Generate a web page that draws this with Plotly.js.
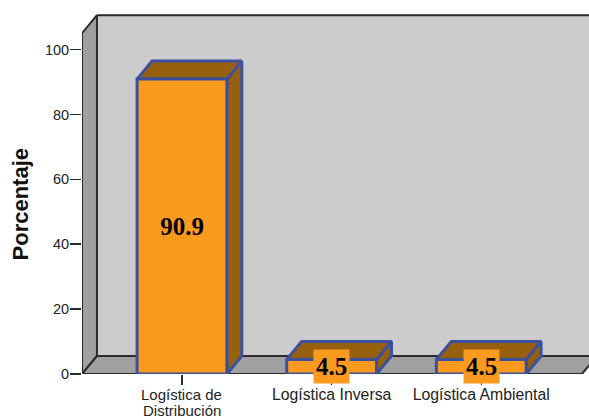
<!DOCTYPE html>
<html>
<head>
<meta charset="utf-8">
<script src="https://cdn.plot.ly/plotly-3.0.1.min.js"></script>
<style>html,body{margin:0;padding:0;background:#fff}#c{width:589px;height:418px}</style>
</head>
<body>
<div id="c"></div>
<script>
const categories = ["Logística de|Distribución", "Logística Inversa", "Logística Ambiental"];
const values = [90.9, 4.5, 4.5];
const yTicks = [0, 20, 40, 60, 80, 100];

const xRange = [-0.668, 2.72];
const yRange = [0, 112.2];
const depthX = 0.1, depthY = 5.55;
const halfBar = 0.3;
const wallTop = 110.6, leftTop = wallTop - depthY, rightEnd = 2.673;

const colors = {wall:"#cccccc", side:"#a0a0a0", front:"#fb9a1e", dark:"#96600f", edge:"#3c50a0", frame:"#2a2a2a"};

function poly(x, y, fill, line, w) {
  return {type:"scatter", mode:"lines", x:x, y:y, fill:"toself", fillcolor:fill,
    line:{color:line, width:w}, hoverinfo:"skip", showlegend:false, cliponaxis:false};
}
const L = xRange[0], B = L + depthX;
const traces = [
  poly([B, rightEnd + depthX, rightEnd + depthX, B, B], [depthY, depthY, wallTop, wallTop, depthY], colors.wall, "rgba(0,0,0,0)", 0),
  poly([L, B, B, L, L], [0, depthY, wallTop, leftTop, 0], colors.side, colors.frame, 2),
  poly([L, rightEnd, rightEnd + depthX, B, L], [0, 0, depthY, depthY, 0], colors.side, colors.frame, 2),
  {type:"scatter", mode:"lines", x:[B, rightEnd + depthX], y:[wallTop, wallTop], line:{color:colors.frame, width:2}, hoverinfo:"skip", showlegend:false, cliponaxis:false}
];
values.forEach((v, i) => {
  const a = i - halfBar, b = i + halfBar;
  traces.push(poly([b, b + depthX, b + depthX, b, b], [0, depthY, v + depthY, v, 0], colors.dark, colors.edge, 3));
  traces.push(poly([a, b, b + depthX, a + depthX, a], [v, v, v + depthY, v + depthY, v], colors.dark, colors.edge, 3));
  traces.push(poly([a, b, b, a, a], [0, 0, v, v, 0], colors.front, colors.edge, 3));
});

const annotations = values.map((v, i) => ({
  x:i, y:v / 2, xref:"x", yref:"y", text:v.toFixed(1), showarrow:false,
  font:{family:"Liberation Serif", size:25, color:"#000", weight:"bold"},
  bgcolor:colors.front, width:35, height:33, borderpad:0
}));
annotations[0].width = 46;
categories.forEach((c, i) => {
  const parts = c.split("|");
  if (parts[1]) {
    annotations.push({x:i, y:0, xref:"x", yref:"y", text:parts[0], showarrow:false,
      yanchor:"middle", yshift:-20.5, font:{size:15, color:"#222"}});
    annotations.push({x:i, y:0, xref:"x", yref:"y", text:parts[1], showarrow:false,
      yanchor:"middle", yshift:-36, font:{size:15, color:"#222"}});
  }
});
annotations.push({xref:"paper", yref:"paper", x:-0.15, y:0.467, text:"<b>Porcentaje</b>", textangle:-90,
  showarrow:false, font:{size:22, color:"#111"}});

Plotly.newPlot("c", traces, {
  width:589, height:418, margin:{l:82, r:0, t:10, b:44},
  paper_bgcolor:"#fff", plot_bgcolor:"#fff", showlegend:false,
  font:{family:"Liberation Sans", color:"#222"},
  xaxis:{range:xRange, tickmode:"array", tickvals:categories.map((c, i) => i),
    ticktext:categories.map(c => c.includes("|") ? " " : c),
    ticks:"outside", ticklen:10, tickwidth:1.5, tickcolor:colors.frame, tickfont:{size:15.8, color:"#222"},
    ticklabelstandoff:-4, showgrid:false, zeroline:false, showline:false, fixedrange:true},
  yaxis:{range:yRange, tickmode:"array", tickvals:yTicks, ticktext:yTicks.map(String),
    ticks:"outside", ticklen:11, tickwidth:1.5, tickcolor:colors.frame, tickfont:{size:14.5, color:"#222"},
    ticklabelstandoff:-2, showgrid:false, zeroline:false, showline:false, fixedrange:true},
  annotations:annotations
}, {displayModeBar:false, staticPlot:true});
</script>
</body>
</html>
